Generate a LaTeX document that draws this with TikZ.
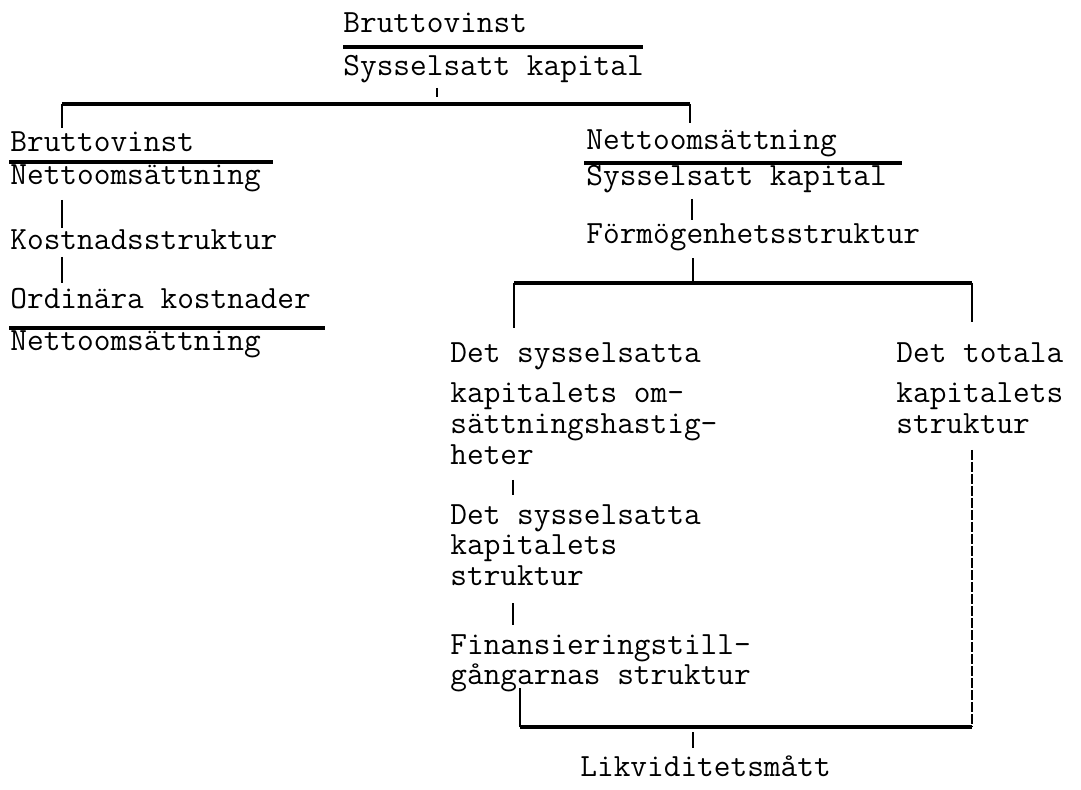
\documentclass[tikz,border=0pt]{standalone}
\usepackage{fontspec}
\usetikzlibrary{positioning}

\begin{document}
\begin{tikzpicture}[x=0.5pt,y=-0.5pt]
        \useasboundingbox (0,0) rectangle (1081,790);

        \begin{scope}[every node/.style={inner sep=0pt,align=left,font=\ttfamily\fontsize{16.2}{15.4}\selectfont}]
            \node[anchor=base west] (topnum) at (343,33) {Bruttovinst};
            \node[anchor=base west] (topden) at (343,76) {Sysselsatt kapital};
            \node[anchor=base west] (lnum) at (10,152) {Bruttovinst};
            \node[anchor=base west] (lden) at (10,185) {Nettoomsättning};
            \node[anchor=base west] (kost) at (10,250) {Kostnadsstruktur};
            \node[anchor=base west] (ordnum) at (10,309) {Ordinära kostnader};
            \node[anchor=base west] (ordden) at (10,351) {Nettoomsättning};
            \node[anchor=base west] (rnum) at (586,150) {Nettoomsättning};
            \node[anchor=base west] (rden) at (586,186) {Sysselsatt kapital};
            \node[anchor=base west] (formog) at (586,244) {Förmögenhetsstruktur};
            \node[anchor=north west] (omshast) at (450,342) {Det sysselsatta\\[5pt]kapitalets om-\\sättningshastig-\\heter};
            \node[anchor=north west] (sysstr) at (450,504) {Det sysselsatta\\kapitalets\\struktur};
            \node[anchor=north west] (finstr) at (450,634) {Finansieringstill-\\gångarnas struktur};
            \node[anchor=north west] (totstr) at (896,342) {Det totala\\[5pt]kapitalets\\struktur};
            \node[anchor=base west] (likv) at (580,776) {Likviditetsmått};
        \end{scope}

        % end points of the bars and ticks
        \coordinate (b1l) at (343,47);  \coordinate (b1r) at (643,47);
        \coordinate (b2l) at (9,162);   \coordinate (b2r) at (273,162);
        \coordinate (b3l) at (9,328);   \coordinate (b3r) at (325,328);
        \coordinate (b4l) at (584,163); \coordinate (b4r) at (902,163);
        \coordinate (h1l) at (62,104);  \coordinate (h1m) at (437,97); \coordinate (h1r) at (690,104);
        \coordinate (h2l) at (514,283); \coordinate (h2m) at (693,283); \coordinate (h2r) at (972,283);
        \coordinate (h3l) at (520,727); \coordinate (h3m) at (693,727); \coordinate (h3r) at (972,727);

        \begin{scope}[fracbar/.style={line width=1.6pt},tick/.style={line width=0.7pt}]
            \path[fracbar] (b1l) edge (b1r);
            \path[fracbar] (b2l) edge (b2r);
            \path[fracbar] (b3l) edge (b3r);
            \path[fracbar] (b4l) edge (b4r);
            \path[fracbar] (h1l) edge (h1r);
            \path[fracbar] (h2l) edge (h2r);
            \path[fracbar] (h3l) edge (h3r);

            \path[tick] (437,88) edge (h1m);
            \path[tick] (h1l) edge (62,128);
            \path[tick] (h1r) edge (690,123);
            \path[tick] (62,200) edge (62,228);
            \path[tick] (62,257) edge (62,283);
            \path[tick] (692,199) edge (692,220);
            \path[tick] (h2m) edge (693,258);
            \path[tick] (h2l) edge (514,328);
            \path[tick] (h2r) edge (972,322);
            \path[tick] (513,480) edge (513,495);
            \path[tick] (513,603) edge (513,625);
            \path[tick] (h3l) edge (520,688);
            \path[tick,dash pattern=on 5pt off 1pt] (972,450) edge (h3r);
            \path[tick] (693,732) edge (693,748);
        \end{scope}

\end{tikzpicture}
\end{document}
